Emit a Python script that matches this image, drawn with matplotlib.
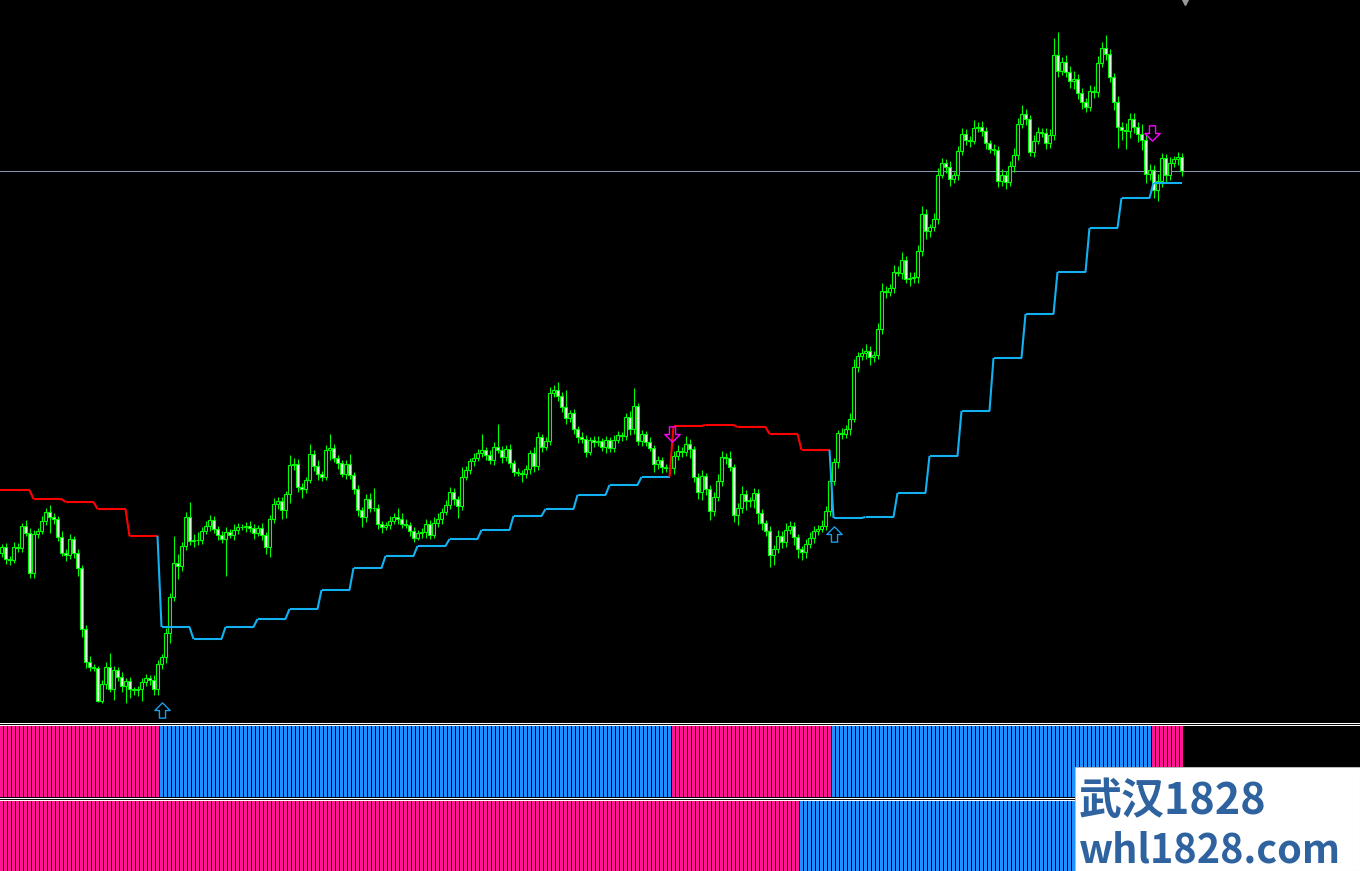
import numpy as np
import matplotlib
matplotlib.use("Agg")
import matplotlib.pyplot as plt
from matplotlib.collections import LineCollection
from matplotlib.lines import Line2D
from matplotlib.patches import Rectangle
from matplotlib.path import Path

# ---------------- data (price points) ----------------
first_open = 447
closes = [
    453, 441, 440, 453, 452, 474, 467, 427, 466, 469,
    479, 488, 483, 481, 463, 447, 445, 461, 447, 432,
    371, 338, 333, 332, 299, 316, 333, 311, 330, 323,
    314, 319, 311, 310, 311, 318, 322, 320, 311, 336,
    343, 367, 403, 437, 434, 454, 483, 459, 460, 460,
    469, 474, 480, 471, 465, 461, 468, 465, 470, 473,
    473, 474, 472, 467, 472, 465, 453, 481, 496, 499,
    490, 506, 535, 536, 513, 511, 520, 546, 534, 526,
    523, 550, 552, 542, 537, 526, 536, 525, 511, 490,
    483, 501, 492, 492, 476, 473, 475, 479, 483, 481,
    476, 475, 469, 462, 467, 468, 476, 465, 477, 481,
    488, 495, 508, 501, 494, 523, 530, 539, 542, 547,
    550, 545, 540, 553, 550, 543, 551, 537, 528, 527,
    526, 531, 547, 534, 563, 553, 559, 607, 610, 604,
    593, 582, 587, 571, 563, 561, 548, 560, 558, 559,
    553, 560, 552, 560, 565, 564, 583, 571, 594, 559,
    566, 558, 552, 536, 540, 533, 532, 532, 544, 549,
    548, 556, 551, 523, 508, 524, 511, 489, 503, 519,
    543, 542, 533, 485, 492, 506, 499, 500, 507, 487,
    477, 469, 445, 451, 464, 458, 470, 474, 463, 451,
    448, 456, 462, 469, 471, 474, 489, 519, 538, 567,
    566, 571, 581, 633, 644, 647, 649, 643, 645, 671,
    709, 708, 712, 728, 727, 740, 721, 722, 723, 749,
    786, 769, 773, 781, 825, 837, 833, 821, 825, 849,
    866, 860, 859, 872, 873, 869, 857, 851, 850, 819,
    825, 818, 834, 845, 876, 886, 881, 848, 859, 868,
    867, 857, 865, 945, 929, 938, 928, 919, 921, 907,
    898, 893, 909, 908, 937, 952, 946, 923, 898, 873,
    870, 869, 881, 873, 866, 860, 826, 830, 810, 819,
    842, 825, 837, 841, 843, 829,
]
upper_wick = [
    3, 4, 3, 5, 4, 3, 6, 5, 4, 3,
    5, 4, 7, 4, 3, 6, 4, 5, 3, 4,
    3, 4, 6, 3, 2, 4, 5, 14, 4, 3,
    5, 3, 4, 2, 3, 4, 4, 3, 5, 4,
    3, 5, 4, 27, 9, 4, 5, 15, 6, 8,
    4, 5, 5, 4, 3, 4, 5, 3, 6, 4,
    3, 4, 5, 4, 3, 5, 3, 4, 6, 4,
    4, 3, 10, 6, 5, 4, 3, 10, 4, 6,
    3, 5, 14, 4, 3, 3, 4, 10, 3, 4,
    3, 5, 6, 20, 4, 3, 3, 5, 4, 9,
    6, 5, 3, 4, 3, 4, 5, 4, 6, 6,
    4, 5, 5, 4, 3, 10, 4, 3, 5, 4,
    16, 3, 5, 5, 23, 4, 4, 5, 3, 4,
    3, 4, 3, 6, 5, 3, 4, 6, 5, 8,
    4, 17, 3, 4, 3, 5, 4, 3, 4, 5,
    3, 4, 3, 5, 4, 3, 4, 6, 18, 3,
    4, 3, 5, 3, 4, 3, 3, 4, 5, 6,
    4, 8, 5, 3, 4, 6, 3, 4, 5, 7,
    6, 4, 7, 3, 5, 8, 4, 3, 5, 4,
    4, 3, 5, 4, 6, 5, 7, 5, 4, 3,
    3, 5, 6, 5, 4, 6, 5, 6, 4, 3,
    5, 4, 6, 8, 4, 5, 7, 5, 4, 6,
    8, 5, 4, 7, 6, 8, 4, 6, 5, 6,
    8, 5, 3, 6, 7, 5, 4, 6, 3, 5,
    6, 5, 4, 8, 5, 6, 4, 3, 5, 4,
    6, 4, 5, 7, 6, 9, 5, 4, 6, 5,
    4, 5, 6, 17, 23, 5, 7, 6, 8, 5,
    5, 4, 6, 5, 7, 6, 13, 5, 4, 6,
    5, 7, 6, 6, 5, 10, 5, 6, 5, 7,
    5, 4, 6, 3, 5, 4,
]
lower_wick = [
    4, 5, 5, 3, 4, 4, 3, 5, 5, 4,
    3, 4, 16, 5, 4, 3, 6, 4, 5, 8,
    8, 6, 4, 3, 1, 2, 5, 3, 11, 4,
    6, 17, 9, 5, 6, 12, 4, 5, 6, 6,
    5, 6, 10, 4, 13, 5, 4, 4, 6, 5,
    4, 3, 5, 4, 5, 4, 37, 3, 5, 4,
    3, 5, 4, 6, 3, 5, 7, 10, 4, 5,
    9, 8, 9, 5, 5, 9, 4, 3, 5, 6,
    4, 3, 10, 4, 6, 3, 5, 4, 5, 6,
    10, 5, 4, 3, 5, 6, 3, 4, 3, 5,
    4, 3, 5, 4, 2, 5, 6, 4, 3, 4,
    5, 3, 4, 6, 12, 4, 3, 4, 5, 3,
    4, 5, 4, 5, 3, 6, 4, 5, 4, 3,
    8, 4, 5, 6, 4, 5, 3, 4, 4, 5,
    5, 6, 4, 5, 6, 4, 5, 3, 5, 4,
    4, 6, 4, 4, 3, 5, 4, 6, 5, 4,
    5, 4, 3, 8, 5, 6, 4, 5, 6, 4,
    5, 4, 9, 5, 7, 8, 6, 9, 5, 4,
    5, 6, 4, 7, 10, 5, 9, 6, 8, 11,
    7, 5, 12, 10, 4, 6, 5, 4, 8, 9,
    8, 6, 4, 5, 4, 3, 4, 5, 4, 6,
    5, 4, 6, 3, 5, 4, 6, 8, 5, 4,
    5, 6, 4, 5, 3, 6, 4, 7, 5, 6,
    5, 8, 6, 4, 5, 3, 6, 7, 4, 5,
    4, 5, 6, 3, 4, 5, 6, 4, 5, 6,
    5, 7, 4, 6, 5, 4, 6, 4, 5, 3,
    4, 6, 5, 5, 6, 4, 5, 7, 8, 6,
    7, 5, 4, 6, 5, 4, 6, 5, 8, 21,
    10, 18, 7, 6, 8, 10, 9, 6, 8, 11,
    6, 7, 5, 4, 6, 5,
]

# trailing-stop step line: one level per block of 8 bars
stop_block = 8
stop_levels = [510, 501, 498, 491, 464,
               373, 361, 373, 381, 391, 410, 432, 444, 454, 461, 470, 484, 491, 505, 515, 523,
               574, 575, 573, 566, 550,
               482, 483, 507, 544, 589, 642, 686, 728, 772, 802, 817]
# trend state of the step line: (first bar, "up"/"down")
line_trend = [(0, "down"), (40, "up"), (168, "down"), (208, "up")]
# signal panels: (first bar, state)
panel1_state = [(0, "down"), (40, "up"), (168, "down"), (208, "up"), (288, "down")]
panel2_state = [(0, "down"), (200, "up")]
# arrows: (bar, price, kind)
arrows = [(40, 290, "up"), (167.6, 566, "down"), (208, 466, "up"), (287.5, 867, "down")]

# ---------------- derived ----------------
closes = np.array(closes, float)
n = len(closes)
xb = np.arange(n)
opens = np.concatenate([[first_open], closes[:-1]])
highs = np.maximum(opens, closes) + np.array(upper_wick)
lows = np.minimum(opens, closes) - np.array(lower_wick)
stop = np.repeat(stop_levels, stop_block)[:n]


def expand(states):
    out = []
    for k, (start, s) in enumerate(states):
        end = states[k + 1][0] if k + 1 < len(states) else n
        out += [s] * (end - start)
    return out


LIME = "#00FF00"
LINE_BLUE = "#12B2F2"
LINE_RED = "#FF0000"
PINK = "#FF1493"
HBLUE = "#1E90FF"

W, H = 1360, 871
fig = plt.figure(figsize=(W / 100, H / 100), dpi=100, facecolor="black")
XMIN = -0.375


def add_ax(top, bottom):
    a = fig.add_axes([0, 1 - bottom / H, 1, (bottom - top) / H])
    a.set_facecolor("black")
    a.set_axis_off()
    a.set_xlim(XMIN, (W - 1.5) / 4)
    return a


# hollow arrow marker shapes
_up = [(0, 1), (1, 0), (0.4, 0), (0.4, -1), (-0.4, -1), (-0.4, 0), (-1, 0), (0, 1)]
UP_ARROW = Path(_up, closed=True)
DOWN_ARROW = Path([(x, -y) for x, y in _up], closed=True)

# ---------------- main chart ----------------
ax = add_ax(0, 722)
ax.set_ylim(278, 1000)

ax.axhline(closes[-1], color="#8496AE", lw=0.75, zorder=1)

ax.vlines(xb, lows, highs, color=LIME, lw=0.8, zorder=2)
bull = closes >= opens
ax.bar(xb, np.abs(closes - opens), bottom=np.minimum(opens, closes), width=0.55,
       color=np.where(bull, "black", "white"), edgecolor=LIME, lw=0.8, zorder=3)

trend = expand(line_trend)
segs = [[(XMIN, stop[0]), (0, stop[0])]]
cols = [LINE_BLUE if trend[0] == "up" else LINE_RED]
segs += [[(i - 1, stop[i - 1]), (i, stop[i])] for i in range(1, n)]
cols += [LINE_BLUE if trend[i] == "up" else LINE_RED for i in range(1, n)]
ax.add_collection(LineCollection(segs, colors=cols, linewidths=1.5, zorder=4,
                                 capstyle="butt", joinstyle="miter"))

for b, p, kind in arrows:
    ax.plot([b], [p], marker=UP_ARROW if kind == "up" else DOWN_ARROW,
            ms=11, mfc="none", mec="#1E9CE8" if kind == "up" else "#FF00FF",
            mew=1.0, ls="none", zorder=5)

ax.plot([295.75], [999], marker="v", color="#9A9A9A", ms=6, clip_on=True, zorder=5)

# ---------------- signal panels ----------------
for (top, bottom), states in [((725, 797), panel1_state), ((800, 871), panel2_state)]:
    a = add_ax(top, bottom)
    a.set_ylim(0, 1)
    st = expand(states)
    a.bar(xb, np.ones(n), width=0.75, color=[HBLUE if s == "up" else PINK for s in st],
          linewidth=0)

for yp in (722.5, 724.5, 797.5, 799.5):
    fig.add_artist(Line2D([0, 1], [1 - yp / H] * 2, color="white", lw=0.75,
                          transform=fig.transFigure))

# ---------------- watermark ----------------
fig.add_artist(Rectangle((1075 / W, 0), (W - 1075) / W, (H - 767) / H,
                         transform=fig.transFigure, facecolor="white",
                         edgecolor="#BBBBBB", lw=0.75, zorder=10))
fam = ["Noto Sans CJK SC", "DejaVu Sans"]
fig.text(1079 / W, 1 - 814 / H, "武汉1828", color="#2F63A0", fontsize=31,
         fontweight="bold", family=fam, ha="left", va="baseline", zorder=11)
fig.text(1079 / W, 1 - 862 / H, "whl1828.com", color="#2F63A0", fontsize=28.5,
         fontweight="bold", family=fam, ha="left", va="baseline", zorder=11)

fig.savefig("out.png", dpi=100, facecolor="black")
